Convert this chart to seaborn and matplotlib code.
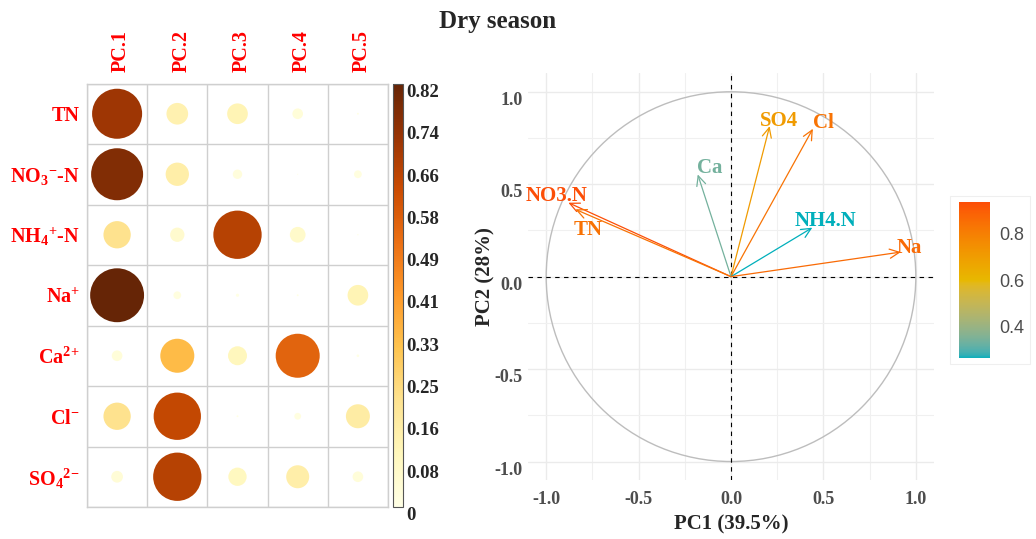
import numpy as np
import pandas as pd
import matplotlib
matplotlib.use("Agg")
import matplotlib.pyplot as plt
import seaborn as sns
from matplotlib.colors import ListedColormap, Normalize, to_rgb
from matplotlib.cm import ScalarMappable
from matplotlib.patches import Circle, Rectangle
from matplotlib.transforms import ScaledTranslation

# ---- squared loadings (cos2) of each ion on the first five components ----
ion_labels = ["TN", r"NO$_3$$^{-}$-N", r"NH$_4$$^{+}$-N", r"Na$^{+}$",
              r"Ca$^{2}$$^{+}$", r"Cl$^{-}$", r"SO$_4$$^{2}$$^{-}$"]
components = ["PC.1", "PC.2", "PC.3", "PC.4", "PC.5"]
cos2_pc1 = [0.709, 0.766, 0.211, 0.823, 0.032, 0.211, 0.039]
cos2_pc2 = [0.133, 0.154, 0.058, 0.017, 0.328, 0.634, 0.661]
cos2_pc3 = [0.121, 0.025, 0.661, 0.003, 0.102, 0.001, 0.095]
cos2_pc4 = [0.032, 0.0003, 0.070, 0.001, 0.549, 0.013, 0.150]
cos2_pc5 = [0.001, 0.017, 0.0005, 0.121, 0.002, 0.163, 0.032]

# ---- variable coordinates on the PC1 / PC2 plane ----
pca_vars = ["NO3.N", "TN", "Ca", "SO4", "Cl", "NH4.N", "Na"]
dim1 = [-0.880, -0.842, -0.180, 0.209, 0.443, 0.440, 0.919]
dim2 = [0.400, 0.364, 0.553, 0.814, 0.800, 0.265, 0.133]
pc1_pct = 39.5
pc2_pct = 28

# label nudges (data units) for the variable names
label_nudge = [(-0.064, 0.034), (0.068, -0.109), (0.063, 0.035), (0.052, 0.029),
               (0.055, 0.030), (0.070, 0.035), (0.045, 0.023)]

gradient_colors = ["#00AFBB", "#E7B800", "#FC4E07"]

sns.set_style("white")
plt.rcParams["font.family"] = ["Liberation Serif", "DejaVu Serif"]
plt.rcParams["mathtext.fontset"] = "custom"
plt.rcParams["mathtext.rm"] = "Liberation Serif:bold"
plt.rcParams["mathtext.it"] = "Liberation Serif:italic:bold"
plt.rcParams["mathtext.bf"] = "Liberation Serif:bold"
plt.rcParams["mathtext.default"] = "rm"
plt.rcParams["axes.unicode_minus"] = False

W, H = 1036, 539
fig = plt.figure(figsize=(W / 100, H / 100), dpi=100)


def box(l, t, r, b):
    return [l / W, 1 - b / H, (r - l) / W, (b - t) / H]


def shift(label, dx_px, dy_px):
    label.set_transform(label.get_transform()
                        + ScaledTranslation(dx_px / 100, dy_px / 100, fig.dpi_scale_trans))


# --- colour gradient interpolated in CIELAB (as ggplot's gradientn does) ---
_WHITE = np.array([0.95047, 1.0, 1.08883])
_M = np.array([[0.4124564, 0.3575761, 0.1804375],
               [0.2126729, 0.7151522, 0.0721750],
               [0.0193339, 0.1191920, 0.9503041]])


def _to_lab(hexcol):
    c = np.array(to_rgb(hexcol))
    c = np.where(c <= 0.04045, c / 12.92, ((c + 0.055) / 1.055) ** 2.4)
    xyz = _M @ c / _WHITE
    f = np.where(xyz > 216 / 24389, np.cbrt(xyz), (24389 / 27 * xyz + 16) / 116)
    return np.array([116 * f[1] - 16, 500 * (f[0] - f[1]), 200 * (f[1] - f[2])])


def _from_lab(lab):
    fy = (lab[0] + 16) / 116
    fx = fy + lab[1] / 500
    fz = fy - lab[2] / 200
    f = np.array([fx, fy, fz])
    xyz = np.where(f ** 3 > 216 / 24389, f ** 3, (116 * f - 16) / (24389 / 27)) * _WHITE
    c = np.linalg.solve(_M, xyz)
    c = np.where(c <= 0.0031308, 12.92 * c, 1.055 * np.clip(c, 0, None) ** (1 / 2.4) - 0.055)
    return np.clip(c, 0, 1)


def lab_gradient(colors, n=256):
    labs = [_to_lab(c) for c in colors]
    out = []
    for t in np.linspace(0, 1, n):
        pos = t * (len(labs) - 1)
        i = min(int(pos), len(labs) - 2)
        u = pos - i
        out.append(_from_lab(labs[i] * (1 - u) + labs[i + 1] * u))
    return ListedColormap(out)


# ================= left: cos2 circle matrix =================
mat = np.column_stack([cos2_pc1, cos2_pc2, cos2_pc3, cos2_pc4, cos2_pc5])
n_rows, n_cols = mat.shape
df = pd.DataFrame({
    "row": np.repeat(np.arange(n_rows), n_cols),
    "col": np.tile(np.arange(n_cols), n_rows),
    "value": mat.ravel(),
})
vmax = mat.max()

ax1 = fig.add_axes(box(87, 83.5, 388, 507))
sns.scatterplot(data=df, x="col", y="row", hue="value", size="value",
                palette="YlOrBr", hue_norm=(0, vmax),
                sizes=(0, 1830), size_norm=(0, 1),
                linewidth=0, legend=False, ax=ax1, zorder=3)
ax1.set_xlim(-0.5, n_cols - 0.5)
ax1.set_ylim(n_rows - 0.5, -0.5)
ax1.set_xlabel("")
ax1.set_ylabel("")
ax1.xaxis.tick_top()
ax1.set_xticks(np.arange(n_cols))
ax1.set_xticklabels(components, rotation=90, color="red",
                    fontweight="bold", fontsize=14.5)
ax1.set_yticks(np.arange(n_rows))
ax1.set_yticklabels(ion_labels, color="red", fontweight="bold", fontsize=14.5)
ax1.set_xticks(np.arange(-0.5, n_cols, 1), minor=True)
ax1.set_yticks(np.arange(-0.5, n_rows, 1), minor=True)
ax1.grid(False)
ax1.grid(which="minor", color="#CFCFCF", lw=1.0)
ax1.tick_params(which="both", length=0)
ax1.tick_params(axis="x", which="major", pad=8)
ax1.tick_params(axis="y", which="major", pad=5)
for s in ax1.spines.values():
    s.set_color("#CFCFCF")
    s.set_linewidth(1.0)
for lbl in ax1.get_xticklabels():
    shift(lbl, 4, 0)

cax1 = fig.add_axes(box(393, 84, 403, 507))
cb1 = fig.colorbar(ScalarMappable(Normalize(0, vmax), "YlOrBr"), cax=cax1)
cb_ticks = np.linspace(0, vmax, 11)
cb1.set_ticks(cb_ticks)
cb1.set_ticklabels([f"{round(t, 2):g}" for t in cb_ticks])
cb1.outline.set_edgecolor("#555555")
cb1.outline.set_linewidth(0.8)
cax1.tick_params(length=0, pad=2, labelsize=13.5)
for lbl in cax1.get_yticklabels():
    lbl.set_fontweight("bold")
    lbl.set_verticalalignment("top")

# ================= right: variable correlation circle =================
ax2 = fig.add_axes(box(527.7, 73.3, 934.3, 480))
ax2.set_xlim(-1.1, 1.1)
ax2.set_ylim(-1.1, 1.1)
major = [-1.0, -0.5, 0.0, 0.5, 1.0]
minor = [-0.75, -0.25, 0.25, 0.75]
ax2.set_xticks(major)
ax2.set_xticklabels([f"{v:.1f}" for v in major])
ax2.set_yticks(major)
ax2.set_yticklabels([f"{v:.1f}" for v in major])
ax2.set_xticks(minor, minor=True)
ax2.set_yticks(minor, minor=True)
ax2.grid(which="major", color="#EBEBEB", lw=1.0)
ax2.grid(which="minor", color="#F0F0F0", lw=0.8)
ax2.set_axisbelow(True)
ax2.tick_params(which="minor", length=0)
ax2.tick_params(which="major", length=3, width=0.6, color="#555555",
                labelsize=13, labelcolor="#4D4D4D")
ax2.tick_params(axis="x", pad=5)
ax2.tick_params(axis="y", pad=0.5)
for s in ax2.spines.values():
    s.set_visible(False)

ax2.add_patch(Circle((0, 0), 1, fill=False, ec="#BDBDBD", lw=1.0, zorder=1))
ax2.axhline(0, color="black", ls=(0, (4, 4)), lw=0.8, zorder=2)
ax2.axvline(0, color="black", ls=(0, (4, 4)), lw=0.8, zorder=2)

x_arr = np.array(dim1)
y_arr = np.array(dim2)
cos2_plane = x_arr ** 2 + y_arr ** 2
grad = lab_gradient(gradient_colors)
norm2 = Normalize(cos2_plane.min(), cos2_plane.max())

for name, x, y, q, (dx, dy) in zip(pca_vars, x_arr, y_arr, cos2_plane, label_nudge):
    c = grad(norm2(q))
    ax2.annotate("", xy=(x, y), xytext=(0, 0),
                 arrowprops=dict(arrowstyle="->,head_length=0.7,head_width=0.33",
                                 color=c, lw=0.9, shrinkA=0, shrinkB=0),
                 zorder=3)
    ax2.text(x + dx, y + dy, name, color=c, fontsize=15, fontweight="bold",
             ha="center", va="center", zorder=4)

ax2.set_xlabel(f"PC1 ({pc1_pct}%)", fontsize=15, fontweight="bold")
ax2.set_ylabel(f"PC2 ({pc2_pct}%)", fontsize=15, fontweight="bold")
ax2.xaxis.set_label_coords(0.5, -0.084)
ax2.yaxis.set_label_coords(-0.080, 0.5)

for lbl in ax2.get_xticklabels() + ax2.get_yticklabels():
    lbl.set_fontweight("bold")
for lbl in ax2.get_yticklabels():
    lbl.set_verticalalignment("top")

# legend for cos2 colouring
fig.add_artist(Rectangle((950 / W, 1 - 364 / H), 80 / W, 168 / H,
                         transform=fig.transFigure, fc="white",
                         ec="#EFEFEF", lw=0.8, zorder=0))
cax2 = fig.add_axes(box(959.3, 202.3, 990, 358.3))
cb2 = fig.colorbar(ScalarMappable(norm2, grad), cax=cax2, ticks=[0.4, 0.6, 0.8])
cb2.outline.set_visible(False)
cax2.tick_params(direction="in", length=3.6, width=0.9, color="white",
                 left=True, right=True, labelleft=False, labelright=True,
                 labelsize=13, labelcolor="#4D4D4D", pad=7)
for lbl in cax2.get_yticklabels():
    lbl.set_fontfamily(["Liberation Sans", "DejaVu Sans"])

fig.text(497.5 / W, 1 - 28 / H, "Dry season", ha="center", va="baseline",
         fontsize=18, fontweight="bold")

fig.savefig("out.png", dpi=100, facecolor="white")
